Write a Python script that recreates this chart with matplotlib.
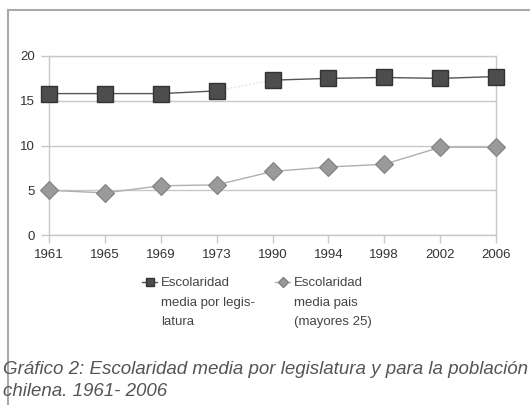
import matplotlib.pyplot as plt
from matplotlib.lines import Line2D

# periods of the chart
years = ["1961", "1965", "1969", "1973", "1990", "1994", "1998", "2002", "2006"]
# escolaridad media por legislatura
legis = [15.8, 15.8, 15.8, 16.1, 17.3, 17.5, 17.6, 17.5, 17.7]
# escolaridad media pais (mayores 25)
pais = [5.0, 4.7, 5.5, 5.6, 7.1, 7.6, 7.9, 9.8, 9.8]
y_ticks = [0, 5, 10, 15, 20]

legend_labels = ["Escolaridad\nmedia por legis-\nlatura",
                 "Escolaridad\nmedia pais\n(mayores 25)"]
caption = ("Gráfico 2: Escolaridad media por legislatura y para la población\n"
           "chilena. 1961- 2006")

plt.rcParams['font.family'] = ['Liberation Sans', 'DejaVu Sans']

W, H = 530, 405
fig = plt.figure(figsize=(W / 100, H / 100), dpi=100)


def px(x0, y0, x1, y1):
    return [x0 / W, 1 - y1 / H, (x1 - x0) / W, (y1 - y0) / H]


ax = fig.add_axes(px(49, 56, 496, 235))
x = list(range(len(years)))

frame_col = "#c8c8c8"
for s in ax.spines.values():
    s.set_color(frame_col)
    s.set_linewidth(1.0)
ax.set_xlim(0, len(years) - 1)
ax.set_ylim(0, 20)
ax.set_yticks(y_ticks)
ax.set_xticks(x)
ax.set_xticklabels(years)
ax.yaxis.grid(True, color=frame_col, linewidth=1.0)
ax.set_axisbelow(True)
ax.tick_params(axis="both", colors=frame_col, labelcolor="#333333",
               labelsize=9.5, length=6, width=1.0)
ax.tick_params(axis="x", pad=4)
ax.tick_params(axis="y", pad=4)

# legislature series, the jump 1973 -> 1990 is only a faint dotted line
ax.plot(x[:4], legis[:4], color="#555555", lw=1.0, zorder=2)
ax.plot(x[3:5], legis[3:5], color="#dddddd", lw=1.0, ls=":", zorder=2)
ax.plot(x[4:], legis[4:], color="#555555", lw=1.0, zorder=2)
ax.plot(x, legis, ls="none", marker="s", markersize=11.5,
        markerfacecolor="#4d4d4d", markeredgecolor="#333333",
        markeredgewidth=1.0, zorder=3, clip_on=False)

ax.plot(x, pais, color="#b0b0b0", lw=1.0, marker="D", markersize=9.5,
        markerfacecolor="#9a9a9a", markeredgecolor="#808080",
        markeredgewidth=0.8, zorder=3, clip_on=False)

# legend, drawn by hand in figure pixels
leg_x = [150, 283]
line_cols = ["#555555", "#b0b0b0"]
markers = [dict(marker="s", markersize=6, markerfacecolor="#4d4d4d",
                markeredgecolor="#333333"),
           dict(marker="D", markersize=5.5, markerfacecolor="#9a9a9a",
                markeredgecolor="#808080")]
for lx, lc, mk, lab in zip(leg_x, line_cols, markers, legend_labels):
    yy = 1 - 282 / H
    fig.add_artist(Line2D([(lx - 8) / W, (lx + 7) / W], [yy, yy],
                          lw=1.0, color=lc))
    fig.add_artist(Line2D([lx / W], [yy], lw=0, **mk))
    fig.text((lx + 11) / W, 1 - 277 / H, lab, fontsize=9.5, color="#444444",
             va="top", ha="left", linespacing=1.85)

fig.text(3 / W, 1 - 361 / H, caption, fontsize=13.5, style="italic",
         color="#555555", va="top", ha="left", linespacing=1.42)

# outer frame
fig.add_artist(Line2D([8 / W, 1], [1 - 10 / H, 1 - 10 / H],
                      color="#aaaaaa", lw=1.5))
fig.add_artist(Line2D([8 / W, 8 / W], [0, 1 - 10 / H],
                      color="#aaaaaa", lw=1.5))

fig.savefig("out.png", dpi=100)
